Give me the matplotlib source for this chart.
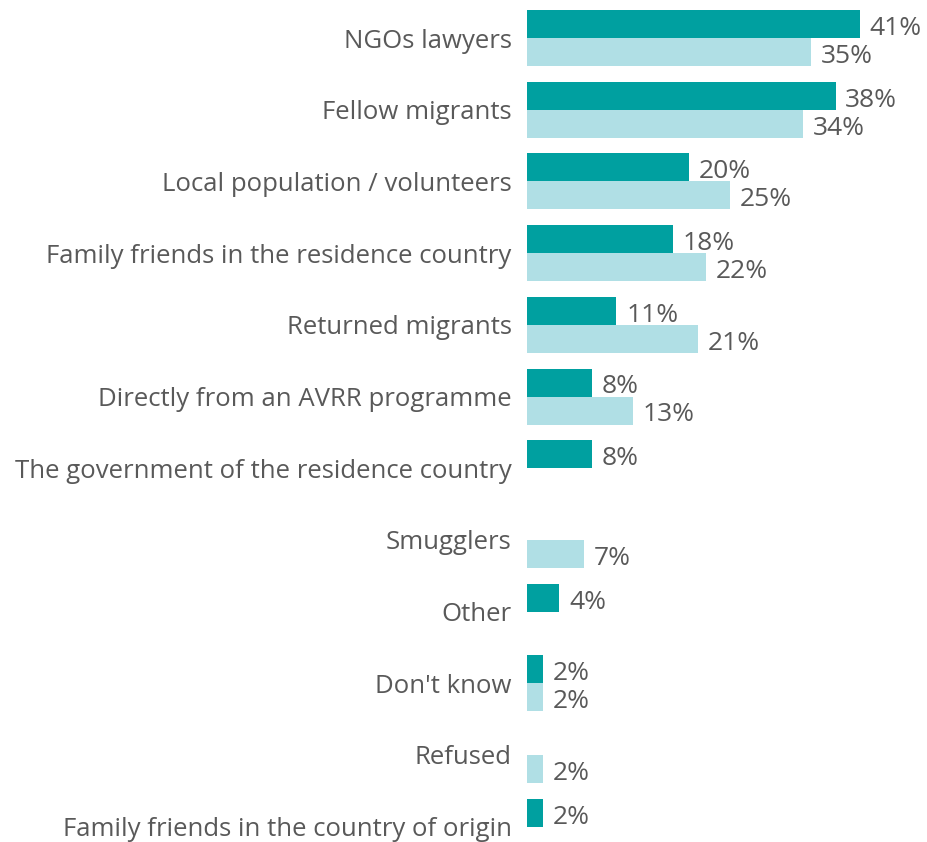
import numpy as np
from matplotlib import pyplot as plt

# categorias y valores (porcentajes), nan = sin barra
categorias = ["NGOs lawyers", "Fellow migrants", "Local population / volunteers",
              "Family friends in the residence country", "Returned migrants",
              "Directly from an AVRR programme", "The government of the residence country",
              "Smugglers", "Other", "Don't know", "Refused",
              "Family friends in the country of origin"]
serie_a = [41, 38, 20, 18, 11, 8, 8, np.nan, 4, 2, np.nan, 2]
serie_b = [35, 34, 25, 22, 21, 13, np.nan, 7, np.nan, 2, 2, np.nan]

c_a = '#00A0A0'
c_b = '#B0DFE5'
gris = '#595959'

plt.rcParams['font.family'] = ['Open Sans', 'DejaVu Sans']

fig = plt.figure(figsize=(9.27, 8.42), dpi=100)
ax = fig.add_axes([527/927, 0, 400/927, 1])

paso = 71.7  # px entre grupos
y = np.arange(len(categorias))
h = 28/paso
ax.barh(y - h/2, serie_a, height=h, color=c_a)
ax.barh(y + h/2, serie_b, height=h, color=c_b)

# etiquetas de valores
for i, (a, b) in enumerate(zip(serie_a, serie_b)):
    if not np.isnan(a):
        ax.text(a + 1.2, i - h/2 + 0.02, f'{a:.0f}%', va='center_baseline', ha='left', fontsize=19, color=gris)
    if not np.isnan(b):
        ax.text(b + 1.2, i + h/2 + 0.02, f'{b:.0f}%', va='center_baseline', ha='left', fontsize=19, color=gris)

ax.set_yticks(y)
ax.set_yticklabels(categorias, fontsize=18.5, color=gris)
ax.tick_params(axis='y', length=0, pad=11)
ax.set_xticks([])
ax.set_xlim(0, 400/8.12)
ax.set_ylim((842 - 38)/paso, -38/paso)
for s in ax.spines.values():
    s.set_visible(False)

fig.savefig('out.png', dpi=100)
